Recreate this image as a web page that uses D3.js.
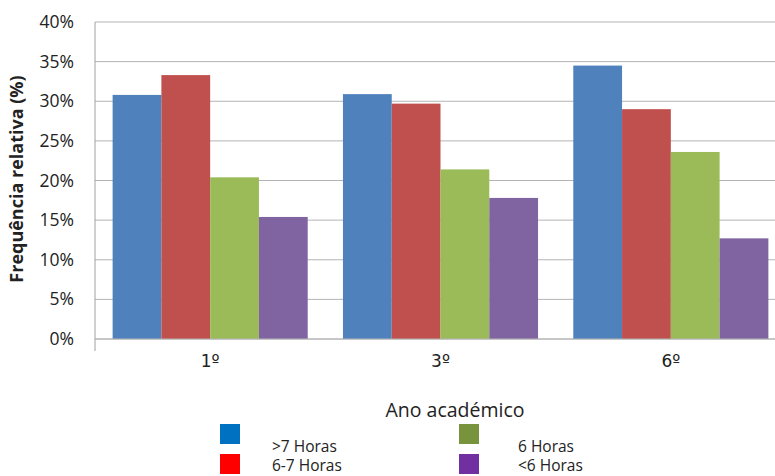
<!DOCTYPE html>
<html><head><meta charset="utf-8">
<script src="https://cdn.jsdelivr.net/npm/d3@7"></script>
<style>body{margin:0;background:#fff}svg{display:block}text{font-family:"Open Sans",sans-serif;fill:#222}</style>
</head><body><svg id="c" width="775" height="476"></svg>
<script>
const categories = ["1º", "3º", "6º"];
const seriesNames = [">7 Horas", "6-7 Horas", "6 Horas", "<6 Horas"];
const series1 = [30.8, 30.9, 34.5];   // >7 Horas
const series2 = [33.3, 29.7, 29.0];   // 6-7 Horas
const series3 = [20.4, 21.4, 23.6];   // 6 Horas
const series4 = [15.4, 17.8, 12.7];   // <6 Horas
const yTicks = [0, 5, 10, 15, 20, 25, 30, 35, 40];
const barColors = ["#4F81BD", "#C0504D", "#9BBB59", "#8064A2"];
const legendColors = ["#0070C0", "#FF0000", "#77933C", "#7030A0"];
const allSeries = [series1, series2, series3, series4];

const svg = d3.select("#c");
const mLeft = 95, mRight = 786, mTop = 22, mBottom = 339;
const x0 = d3.scaleBand().domain(categories).range([mLeft, mRight]).paddingInner(0.153).paddingOuter(0.0765);
const x1 = d3.scaleBand().domain(d3.range(4)).range([0, x0.bandwidth()]);
const y = d3.scaleLinear().domain([0, 40]).range([mBottom, mTop]);

// gridlines
svg.append("g").selectAll("line").data(yTicks).join("line")
  .attr("x1", mLeft).attr("x2", mRight)
  .attr("y1", d => y(d)).attr("y2", d => y(d))
  .attr("stroke", "#b4b4b4").attr("stroke-width", 1);

// y axis
const yAxis = svg.append("g").attr("transform", `translate(${mLeft},0)`)
  .call(d3.axisLeft(y).tickValues(yTicks).tickSize(0).tickPadding(21).tickFormat(d => d + "%"));
yAxis.select(".domain").remove();
yAxis.selectAll("text").style("font-size", "17.5px").attr("fill", "#222");
svg.append("line").attr("x1", mLeft).attr("x2", mLeft).attr("y1", mTop).attr("y2", mBottom + 12)
  .attr("stroke", "#a0a0a0");

// bars
const data = categories.map((c, i) => ({cat: c, vals: allSeries.map(s => s[i])}));
svg.append("g").selectAll("g").data(data).join("g")
  .attr("transform", d => `translate(${x0(d.cat)},0)`)
  .selectAll("rect").data(d => d.vals.map((v, k) => ({k, v}))).join("rect")
  .attr("x", d => x1(d.k)).attr("width", x1.bandwidth())
  .attr("y", d => y(d.v)).attr("height", d => y(0) - y(d.v))
  .attr("fill", d => barColors[d.k]);

// x axis
svg.append("line").attr("x1", mLeft).attr("x2", mRight).attr("y1", mBottom).attr("y2", mBottom)
  .attr("stroke", "#b4b4b4");
const xAxis = svg.append("g").attr("transform", `translate(0,${mBottom})`)
  .call(d3.axisBottom(x0).tickSize(0).tickPadding(16));
xAxis.select(".domain").remove();
xAxis.selectAll("text").style("font-size", "17px").style("font-family", "'DejaVu Sans', sans-serif").attr("fill", "#222");

// y title
svg.append("text").attr("transform", "translate(23,179) rotate(-90)")
  .attr("text-anchor", "middle").style("font-size", "18px").style("font-weight", "bold")
  .text("Frequência relativa (%)");

// x title
svg.append("text").attr("x", 455).attr("y", 417).attr("text-anchor", "middle")
  .style("font-size", "19.5px").attr("fill", "#333").text("Ano académico");

// legend
const legPos = [[220, 424, 272, 452], [220, 454, 272, 471], [459, 424, 518, 452], [459, 454, 518, 471]];
const leg = svg.append("g").selectAll("g").data(seriesNames).join("g");
leg.append("rect").attr("x", (d, i) => legPos[i][0]).attr("y", (d, i) => legPos[i][1])
  .attr("width", 20).attr("height", 20).attr("fill", (d, i) => legendColors[i]);
leg.append("text").attr("x", (d, i) => legPos[i][2]).attr("y", (d, i) => legPos[i][3])
  .style("font-size", "15.5px").attr("fill", "#111").text(d => d);
</script></body></html>
